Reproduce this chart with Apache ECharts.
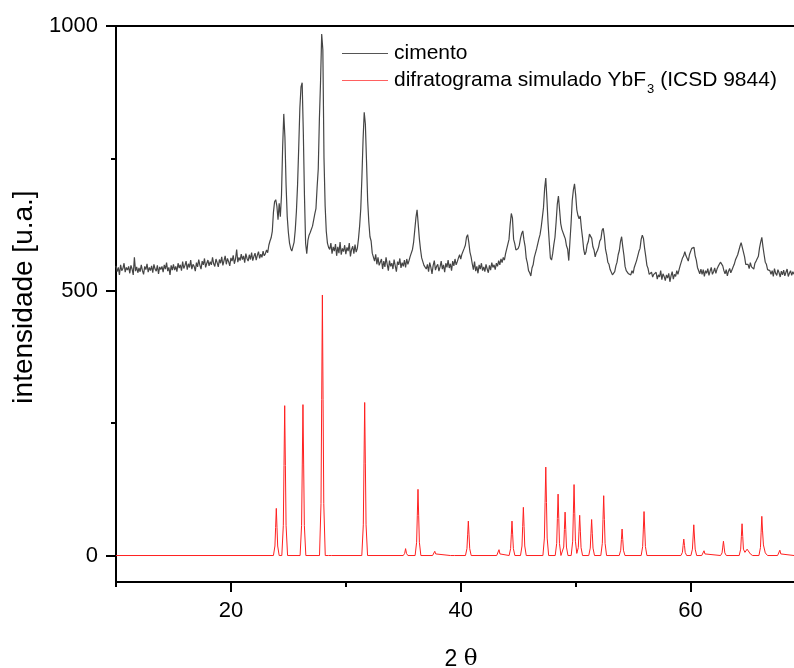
<!DOCTYPE html>
<html>
<head>
<meta charset="utf-8">
<script src="https://cdn.jsdelivr.net/npm/echarts@6/dist/echarts.min.js"></script>
<style>
  html, body { margin: 0; padding: 0; background: #fff; }
  #chart { width: 794px; height: 668px; }
</style>
</head>
<body>
<div id="chart"></div>
<script>
// ---- data ----
const cimentoStart = 10;   // 2θ of first sample
const cimentoStep = 0.1;   // sampling step in 2θ
const cimento = [
  547,536,544,530,549,538,542,552,535,544,
  539,546,533,548,541,530,563,537,545,534,
  543,536,549,538,531,546,540,551,535,544,
  538,547,534,550,541,537,548,532,545,540,
  546,535,549,541,553,537,544,530,548,539,
  550,539,546,536,552,543,549,538,555,542,
  548,556,540,551,544,558,541,550,546,537,
  553,545,559,548,541,556,549,561,544,552,
  558,547,555,549,563,551,546,560,553,545,
  559,552,564,548,557,566,550,561,555,547,
  562,556,567,551,560,578,554,563,557,569,
  559,566,553,570,561,556,568,559,572,557,
  565,571,558,567,574,561,569,563,575,566,
  570,577,572,586,594,600,612,648,668,672,
  660,634,665,640,680,770,834,790,700,640,
  610,590,580,575,572,592,615,650,700,770,
  845,885,893,800,680,590,570,595,605,610,
  612,622,619,645,655,695,730,825,895,985,
  955,750,660,612,590,582,578,590,570,583,
  575,588,566,583,571,592,568,580,574,586,
  569,582,575,590,565,578,584,570,587,573,
  580,598,622,655,715,785,837,815,745,670,
  630,602,594,571,572,556,569,550,563,548,
  548,560,541,556,545,563,550,538,557,546,
  552,541,559,547,536,555,549,561,543,553,
  546,558,544,560,550,557,565,568,578,592,
  615,638,653,650,598,578,562,560,548,546,
  541,550,536,553,544,532,548,557,539,546,
  550,537,545,556,541,549,535,552,544,558,
  543,551,538,556,547,560,549,555,562,568,
  560,569,570,580,586,601,606,592,573,564,
  551,540,555,537,546,533,549,541,552,538,
  545,536,550,541,534,548,539,553,544,549,
  540,552,546,557,549,560,553,563,558,570,
  572,588,597,625,646,637,597,589,577,578,
  580,586,599,608,613,596,584,561,552,538,
  534,528,543,549,563,565,579,582,598,606,
  620,638,657,693,713,672,627,593,562,558,
  570,587,601,630,663,679,653,627,616,613,
  604,598,585,579,557,592,627,670,690,702,
  681,653,642,636,641,618,600,578,568,573,
  587,593,607,608,599,583,577,564,572,576,
  583,594,598,614,618,602,578,568,554,550,
  540,539,530,532,536,547,554,568,576,593,
  602,583,567,546,538,538,532,534,530,538,
  533,544,545,557,560,574,580,597,605,599,
  580,565,548,542,531,530,535,526,531,529,
  535,522,530,526,538,521,532,527,519,530,
  524,533,517,528,536,522,531,527,538,531,
  540,548,550,562,566,574,566,566,556,568,
  570,580,582,582,566,558,544,542,532,541,
  531,540,527,538,533,542,529,537,544,531,
  536,543,533,541,546,550,554,557,547,538,
  532,540,528,537,542,534,539,545,550,558,
  560,568,570,584,591,591,573,564,550,548,
  550,542,553,545,548,541,552,556,558,565,
  581,592,601,583,568,554,550,540,537,538,
  531,538,527,542,533,529,540,534,526,537,
  530,539,528,535,541,527,533,538,529,536,
  531
];

// simulated YbF3 pattern: [2θ, intensity]
const ybf3 = [
  [10,0],
  [23.70,0],[23.83,18],[23.89,53],[23.95,89],[24.01,53],[24.07,18],[24.20,0],
  [24.43,0],[24.56,57],[24.62,170],[24.68,283],[24.74,170],[24.80,57],[24.93,0],
  [26.02,0],[26.15,57],[26.21,171],[26.27,285],[26.33,171],[26.39,57],[26.52,0],
  [27.71,0],[27.84,98],[27.90,295],[27.96,492],[28.02,295],[28.08,98],[28.21,0],
  [28.50,0],[28.62,3],[28.74,0],
  [31.39,0],[31.52,58],[31.58,173],[31.64,289],[31.70,173],[31.76,58],[31.89,0],
  [35.00,0],[35.12,4],[35.20,13],[35.28,4],[35.40,0],
  [36.03,0],[36.16,25],[36.22,75],[36.28,125],[36.34,75],[36.40,25],[36.53,0],
  [37.55,0],[37.66,3],[37.74,8],[37.82,3],[37.95,0],
  [39.10,0],[39.27,2],[39.45,0],
  [40.41,0],[40.54,13],[40.60,39],[40.66,65],[40.72,39],[40.78,13],[40.91,0],
  [43.13,0],[43.25,3],[43.33,11],[43.41,3],[43.53,0],
  [44.21,0],[44.34,13],[44.40,39],[44.46,65],[44.52,39],[44.58,13],[44.71,0],
  [45.20,0],[45.33,18],[45.39,55],[45.45,91],[45.51,55],[45.57,18],[45.70,0],
  [47.15,0],[47.28,33],[47.34,100],[47.40,167],[47.46,100],[47.52,33],[47.65,0],
  [48.22,0],[48.35,23],[48.41,70],[48.47,116],[48.53,70],[48.59,23],[48.72,0],
  [48.83,0],[48.96,16],[49.02,49],[49.08,82],[49.14,49],[49.20,16],[49.33,0],
  [49.61,0],[49.74,27],[49.80,80],[49.86,134],[49.92,80],[49.98,27],[50.10,4],
  [50.23,15],[50.29,46],[50.35,76],[50.41,46],[50.47,15],[50.60,0],
  [51.14,0],[51.27,14],[51.33,41],[51.39,68],[51.45,41],[51.51,14],[51.64,0],
  [52.19,0],[52.32,23],[52.38,68],[52.44,113],[52.50,68],[52.56,23],[52.69,0],
  [53.79,0],[53.92,10],[53.98,30],[54.04,50],[54.10,30],[54.16,10],[54.29,0],
  [55.70,0],[55.83,17],[55.89,50],[55.95,83],[56.01,50],[56.07,17],[56.20,0],
  [59.16,0],[59.29,6],[59.35,19],[59.41,31],[59.47,19],[59.53,6],[59.66,0],
  [60.03,0],[60.16,12],[60.22,35],[60.28,58],[60.34,35],[60.40,12],[60.53,0],
  [60.97,0],[61.09,3],[61.17,9],[61.25,3],[61.37,0],
  [62.61,0],[62.74,5],[62.80,16],[62.86,27],[62.92,16],[62.98,5],[63.11,0],
  [64.23,0],[64.36,12],[64.42,36],[64.48,60],[64.54,36],[64.60,12],[64.73,6],
  [64.82,8],[64.92,12],[65.00,15],[65.08,10],[65.20,3],[65.40,0],
  [65.95,0],[66.08,15],[66.14,44],[66.20,74],[66.26,48],[66.34,20],[66.50,5],[66.70,0],
  [67.57,0],[67.69,3],[67.77,10],[67.85,3],[67.97,0],
  [69,0]
];

const xMajorTicks = [20, 40, 60];
const xMinorTicks = [10, 30, 50];
const yMajorTicks = [0, 500, 1000];
const yMinorTicks = [250, 750];
const seriesNames = ['cimento', 'difratograma simulado YbF3 (ICSD 9844)'];

// ---- chart ----
const FONT = '"Liberation Sans", Arial, sans-serif';
const chart = echarts.init(document.getElementById('chart'), null, { renderer: 'canvas' });

const axisLineStyle = { color: '#000', width: 2 };
const xRange = { min: 10, max: 69 };
const yRange = { min: -50, max: 1000 };
const plain = v => String(v);

chart.setOption({
  animation: false,
  backgroundColor: '#fff',
  grid: { left: 116, right: 0, top: 26, bottom: 86, containLabel: false, outerBoundsMode: 'none' },
  legend: {
    orient: 'vertical',
    left: 342,
    top: 42,
    padding: 0,
    icon: 'rect',
    itemWidth: 46,
    itemHeight: 1,
    itemGap: 4,
    selectedMode: false,
    data: seriesNames,
    formatter: function (name) {
      if (name === seriesNames[1]) return 'difratograma simulado YbF{s|3} (ICSD 9844)';
      return name;
    },
    textStyle: {
      fontFamily: FONT, fontSize: 21, color: '#000', lineHeight: 23, padding: [0, 0, 0, 1],
      rich: { s: { fontFamily: FONT, fontSize: 13, lineHeight: 13, verticalAlign: 'bottom', padding: [0, 0, -4, 1] } }
    }
  },
  xAxis: [
    {
      type: 'value', position: 'bottom', ...xRange,
      name: '2 {t|θ}', nameLocation: 'middle', nameGap: 66,
      nameTextStyle: { fontFamily: FONT, fontSize: 23, color: '#000', padding: [0, 0, 0, 12],
        rich: { t: { fontFamily: '"DejaVu Serif", "Liberation Serif", serif', fontSize: 23 } } },
      axisLine: { show: true, onZero: false, lineStyle: axisLineStyle },
      axisTick: { show: true, inside: false, length: 10, lineStyle: axisLineStyle, customValues: xMajorTicks },
      axisLabel: { show: true, margin: 18, fontFamily: FONT, fontSize: 22, color: '#000', customValues: xMajorTicks, formatter: plain },
      splitLine: { show: false }
    },
    {
      type: 'value', position: 'bottom', ...xRange,
      axisLine: { show: false, onZero: false },
      axisTick: { show: true, inside: false, length: 5, lineStyle: axisLineStyle, customValues: xMinorTicks },
      axisLabel: { show: false },
      splitLine: { show: false }
    },
    {
      type: 'value', position: 'top', ...xRange,
      axisLine: { show: true, onZero: false, lineStyle: axisLineStyle },
      axisTick: { show: false },
      axisLabel: { show: false },
      splitLine: { show: false }
    }
  ],
  yAxis: [
    {
      type: 'value', position: 'left', ...yRange,
      name: 'intensidade [u.a.]', nameLocation: 'middle', nameGap: 76, nameRotate: 90,
      nameTextStyle: { fontFamily: FONT, fontSize: 28, color: '#000', padding: [0, 0, 0, 14] },
      axisLine: { show: true, onZero: false, lineStyle: axisLineStyle },
      axisTick: { show: true, inside: false, length: 10, lineStyle: axisLineStyle, customValues: yMajorTicks },
      axisLabel: { show: true, margin: 18, fontFamily: FONT, fontSize: 22, color: '#000', customValues: yMajorTicks, formatter: plain },
      splitLine: { show: false }
    },
    {
      type: 'value', position: 'left', ...yRange,
      axisLine: { show: false, onZero: false },
      axisTick: { show: true, inside: false, length: 5, lineStyle: axisLineStyle, customValues: yMinorTicks },
      axisLabel: { show: false },
      splitLine: { show: false }
    }
  ],
  series: [
    {
      name: seriesNames[0], type: 'line', xAxisIndex: 0, yAxisIndex: 0,
      data: cimento.map((v, i) => [cimentoStart + i * cimentoStep, v]),
      symbol: 'none', showSymbol: false, sampling: null,
      lineStyle: { color: '#454545', width: 1.2 }, itemStyle: { color: '#555555' },
      z: 3
    },
    {
      name: seriesNames[1], type: 'line', xAxisIndex: 0, yAxisIndex: 0,
      data: ybf3,
      symbol: 'none', showSymbol: false,
      lineStyle: { color: '#ff2020', width: 1 }, itemStyle: { color: '#ff6060' },
      z: 2
    }
  ]
});
</script>
</body>
</html>
